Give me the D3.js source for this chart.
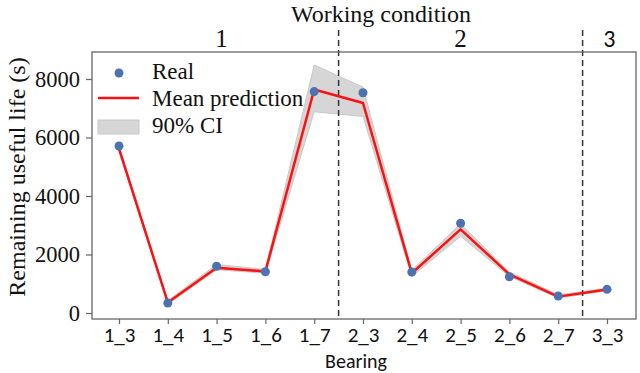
<!DOCTYPE html>
<html><head><meta charset="utf-8"><script src="https://cdn.jsdelivr.net/npm/d3@7"></script></head>
<body style="margin:0"><svg id="c" width="640" height="373"></svg>
<script>
const bearings = ["1_3","1_4","1_5","1_6","1_7","2_3","2_4","2_5","2_6","2_7","3_3"];
const realRUL  = [5710, 340, 1600, 1410, 7570, 7530, 1400, 3070, 1240, 580, 810];
const meanPred = [5620, 360, 1550, 1420, 7640, 7180, 1360, 2860, 1320, 560, 800];
const ciLower  = [5540, 300, 1480, 1360, 6880, 6720, 1250, 2620, 1250, 510, 760];
const ciUpper  = [5700, 420, 1660, 1490, 8480, 7720, 1460, 3050, 1400, 620, 850];
const yTicks = [0, 2000, 4000, 6000, 8000];
const conditionLabels = ["1","2","3"];
const conditionCenters = [2.1, 7, 10.05];
const conditionBounds = [4.5, 9.5];

const SERIF = "Liberation Serif";
const SANS = "Carlito";
const svg = d3.select("#c");
const idx = d3.range(bearings.length);
const x = d3.scaleLinear().domain([0, 10]).range([119, 607]);
const y = d3.scaleLinear().domain([0, 8000]).range([313, 79]);
const L = 92, R = 636, T = 52, B = 319;

function txt(sel, fam, size) {
  return sel.attr("font-family", fam).style("font-family", `"${fam}"`)
    .attr("font-size", size).style("font-size", size + "px").attr("fill", "#111");
}

// CI band
svg.append("path")
  .datum(idx)
  .attr("d", d3.area().x(i => x(i)).y0(i => y(ciLower[i])).y1(i => y(ciUpper[i])))
  .attr("fill", "#d6d6d6").attr("stroke", "#c8c8c8").attr("stroke-width", 1);

// dashed separators
conditionBounds.forEach(b => {
  svg.append("line").attr("x1", x(b)).attr("x2", x(b)).attr("y1", 30).attr("y2", B)
    .attr("stroke", "#333").attr("stroke-width", 1.5).attr("stroke-dasharray", "6,4");
});

// mean prediction line
svg.append("path").datum(idx)
  .attr("d", d3.line().x(i => x(i)).y(i => y(meanPred[i])))
  .attr("fill", "none").attr("stroke", "#ff1010").attr("stroke-width", 2.5).attr("stroke-linejoin", "round");

// real points
svg.selectAll("circle.real").data(idx).enter().append("circle")
  .attr("class","real").attr("cx", i => x(i)).attr("cy", i => y(realRUL[i])).attr("r", 4.5)
  .attr("fill", "#4c72b0");

// frame
svg.append("rect").attr("x", L).attr("y", T).attr("width", R - L).attr("height", B - T)
  .attr("fill", "none").attr("stroke", "#666").attr("stroke-width", 1.3);

// y axis
const ya = svg.append("g").attr("transform", `translate(${L},0)`)
  .call(d3.axisLeft(y).tickValues(yTicks).tickSize(6).tickPadding(6).tickFormat(d3.format("d")));
ya.attr("font-family", SERIF).attr("font-size", 22.5);
ya.select(".domain").remove();
ya.selectAll("line").attr("stroke", "#666").attr("stroke-width", 1.2);
txt(ya.selectAll("text"), SERIF, 22.5);

// x axis
const xa = svg.append("g").attr("transform", `translate(0,${B})`)
  .call(d3.axisBottom(x).tickValues(idx).tickSize(5).tickPadding(3).tickFormat(i => bearings[i]));
xa.attr("font-family", SANS).attr("font-size", 21);
xa.select(".domain").remove();
xa.selectAll("line").attr("stroke", "#666").attr("stroke-width", 1.2);
txt(xa.selectAll("text"), SANS, 21);

// axis labels
txt(svg.append("text").attr("x", 356).attr("y", 367.5).attr("text-anchor", "middle"), SANS, 20).text("Bearing");
txt(svg.append("text").attr("transform", "translate(25,177) rotate(-90)").attr("text-anchor", "middle"), SERIF, 24)
  .text("Remaining useful life (s)");

// top labels
txt(svg.append("text").attr("x", 381).attr("y", 22).attr("text-anchor", "middle"), SERIF, 24).text("Working condition");
conditionLabels.forEach((c, k) => {
  txt(svg.append("text").attr("x", x(conditionCenters[k])).attr("y", 47).attr("text-anchor", "middle"),
      k === 2 ? SANS : SERIF, k === 2 ? 24 : 25).text(c);
});

// legend
const lg = svg.append("g");
lg.append("circle").attr("cx", 119).attr("cy", 73).attr("r", 4.5).attr("fill", "#4c72b0");
lg.append("line").attr("x1", 98).attr("x2", 139).attr("y1", 98).attr("y2", 98)
  .attr("stroke", "#ff1010").attr("stroke-width", 2.5);
lg.append("rect").attr("x", 98).attr("y", 120).attr("width", 41).attr("height", 14)
  .attr("fill", "#d6d6d6").attr("stroke", "#c8c8c8");
[["Real", 79], ["Mean prediction", 106], ["90% CI", 133]].forEach(([t, yy]) => {
  txt(lg.append("text").attr("x", 152).attr("y", yy), SERIF, 23).text(t);
});
</script></body></html>
